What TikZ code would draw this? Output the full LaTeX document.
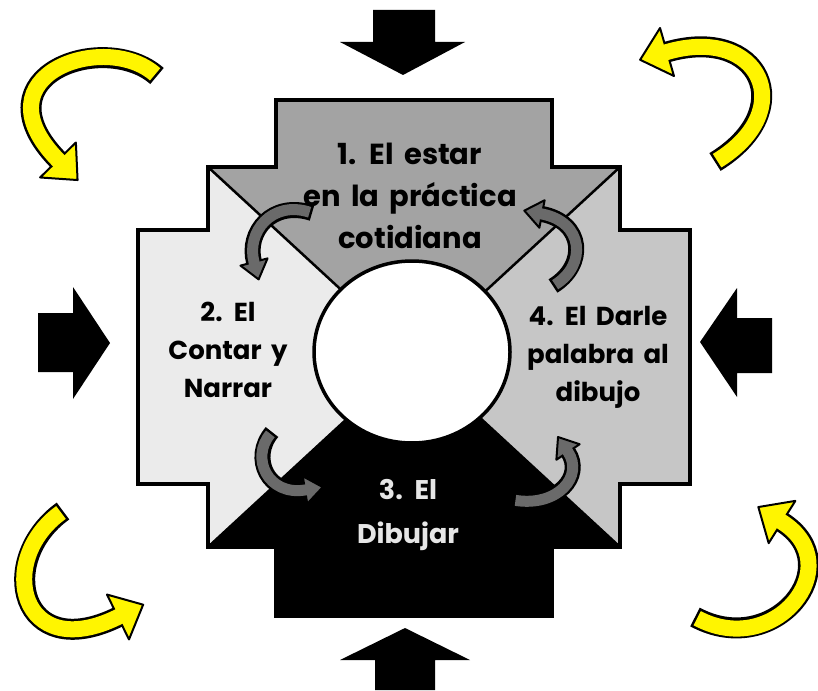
\documentclass[tikz,border=0pt]{standalone}
\usepackage{fontspec}
\setmainfont{Poppins}
\newfontfamily\lblfont{Poppins}[WordSpace=1.7]
\usetikzlibrary{calc}
\definecolor{topgray}{HTML}{A3A3A3}
\definecolor{leftgray}{HTML}{EBEBEB}
\definecolor{rightgray}{HTML}{C6C6C6}
\definecolor{arrowyellow}{HTML}{FFF500}
\definecolor{smallgray}{HTML}{6A6A6A}
\definecolor{btext}{HTML}{E6E6E6}
% band arrow: #1 P0, #2 c1, #3 c2, #4 P3, #5 inner width, #6 outer width, #7 head half width, #8 head length, #9 fill
\newcommand\bandarrow[9]{%
  \draw[line width=#6, black] #1 .. controls #2 and #3 .. #4;
  \filldraw[fill=#9, draw=black, line width=2pt, line join=round]
    ($#4!#7!90:#3$) -- ($#4!-#8!#3$) -- ($#4!#7!-90:#3$) -- cycle;
  \draw[line width=#5, #9, shorten <=2.5pt] #1 .. controls #2 and #3 .. #4 -- ($#4!-3pt!#3$);
}
\tikzset{
  diag/.style={line width=2.5pt, black},
  outline/.style={line width=3.5pt, black, line join=miter},
  blockarrow/.style={fill=black, draw=none},
  lbl/.style 2 args={font=\lblfont\fontsize{#1}{#2}\selectfont\bfseries, align=center, inner sep=0pt},
}
\begin{document}
\begin{tikzpicture}[x=1pt, y=1pt, yscale=-1]
\useasboundingbox (0,0) rectangle (818,690);
\clip (0,0) rectangle (818,690);
\fill[white] (0,0) rectangle (818,690);
\coordinate (C) at (414,357);
% regions
\fill[topgray] (208,167) -- (276,167) -- (276,100) -- (552,100) -- (552,167) -- (620,167) -- (C) -- cycle;
\fill[rightgray] (620,167) -- (620,230) -- (690,230) -- (690,484) -- (620,484) -- (620,547) -- (C) -- cycle;
\fill[black] (620,547) -- (552,547) -- (552,616) -- (276,616) -- (276,547) -- (208,547) -- (C) -- cycle;
\fill[leftgray] (208,547) -- (208,484) -- (138,484) -- (138,230) -- (208,230) -- (208,167) -- (C) -- cycle;
% diagonals
\draw[diag] (208,167) -- (C);
\draw[diag] (620,167) -- (C);
\draw[diag] (208,547) -- (C);
\draw[diag] (620,547) -- (C);
% outline
\draw[outline] (276,100) -- (552,100) -- (552,167) -- (620,167) -- (620,230) -- (690,230) -- (690,484)
  -- (620,484) -- (620,547) -- (552,547) -- (552,616) -- (276,616) -- (276,547) -- (208,547)
  -- (208,484) -- (138,484) -- (138,230) -- (208,230) -- (208,167) -- (276,167) -- cycle;
% central circle
\draw[fill=white, line width=3.5pt] (412,352) ellipse [x radius=98, y radius=91];
% block arrows
\fill[blockarrow] (373,10) -- (435,10) -- (435,42) -- (465,42) -- (403,75) -- (340,42) -- (373,42) -- cycle;
\fill[blockarrow] (38,313) -- (73,313) -- (73,287) -- (110,343) -- (73,399) -- (73,372) -- (38,372) -- cycle;
\fill[blockarrow] (772,318) -- (737,318) -- (737,288) -- (700,342) -- (737,397) -- (737,373) -- (772,373) -- cycle;
\fill[blockarrow] (375,690) -- (435,690) -- (435,660) -- (470,660) -- (405,628) -- (340,660) -- (375,660) -- cycle;
% yellow corner arrows
\bandarrow{(157,76)}{(105,30)}{(-25,75)}{(58,160)}{16pt}{21pt}{25pt}{28pt}{arrowyellow}
\bandarrow{(715,162)}{(800,110)}{(760,25)}{(667,52)}{16pt}{21pt}{25pt}{28pt}{arrowyellow}
\bandarrow{(63,511)}{(-5,560)}{(20,665)}{(118,617)}{16pt}{21pt}{25pt}{28pt}{arrowyellow}
\bandarrow{(695,617)}{(775,660)}{(850,565)}{(782,522)}{16pt}{21pt}{25pt}{28pt}{arrowyellow}
% small grey arrows
\bandarrow{(312,213)}{(272,200)}{(246,232)}{(254,262)}{11pt}{16pt}{14pt}{18pt}{smallgray}
\bandarrow{(553,286)}{(587,265)}{(584,222)}{(542,214)}{11pt}{16pt}{14pt}{18pt}{smallgray}
\bandarrow{(272,432)}{(250,458)}{(268,496)}{(305,490)}{11pt}{16pt}{14pt}{18pt}{smallgray}
\bandarrow{(513,500)}{(558,507)}{(584,476)}{(568,452)}{11pt}{16pt}{14pt}{18pt}{smallgray}
% labels
\node[lbl={29}{42pt}] (t1) at (410,196) {1. El estar\\en la práctica\\cotidiana};
\node[lbl={26}{38pt}] (t2) at (228,350) {2. El\\Contar y\\Narrar};
\node[lbl={26}{38pt}] (t4) at (598,357) {4. El Darle\\palabra al\\dibujo};
\node[lbl={27}{44pt}, text=btext] (t3) at (408,515) {3. El\\Dibujar};
\end{tikzpicture}
\end{document}
